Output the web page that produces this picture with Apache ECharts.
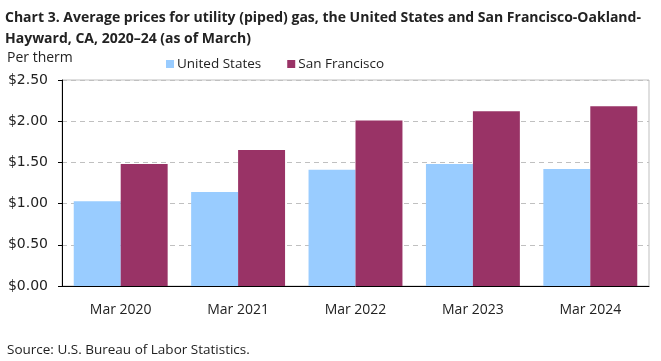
<!DOCTYPE html>
<html><head><meta charset="utf-8">
<script src="https://cdn.jsdelivr.net/npm/echarts@6/dist/echarts.min.js"></script>
<style>html,body{margin:0;padding:0;background:#fff}#c{width:661px;height:361px}</style>
</head><body><div id="c"></div>
<script>
const categories = ['Mar 2020','Mar 2021','Mar 2022','Mar 2023','Mar 2024'];
const usValues = [1.03, 1.14, 1.41, 1.48, 1.42];
const sfValues = [1.48, 1.65, 2.01, 2.12, 2.18];
const seriesNames = ['United States','San Francisco'];
const yTicks = [0, 0.5, 1.0, 1.5, 2.0, 2.5];

const chart = echarts.init(document.getElementById('c'), null, {renderer:'canvas'});
const ff = '"Open Sans", "Liberation Sans", sans-serif';
chart.setOption({
  animation:false,
  backgroundColor:'#fff',
  title:[
    {text:'Chart 3. Average prices for utility (piped) gas, the United States and San Francisco-Oakland-\nHayward, CA, 2020\u201324 (as of March)',
     left:5, top:8, padding:0, textStyle:{fontFamily:ff, fontWeight:'bold', fontSize:14, color:'#222', lineHeight:21}},
    {text:'Per therm', left:7, top:51, padding:0, textStyle:{fontFamily:ff, fontWeight:'normal', fontSize:14, color:'#222'}},
    {text:'Source: U.S. Bureau of Labor Statistics.', left:7, top:343, padding:0, textStyle:{fontFamily:ff, fontWeight:'normal', fontSize:13.5, color:'#222'}}
  ],
  legend:{data:seriesNames, left:166, top:57, padding:0, itemWidth:8, itemHeight:8, itemGap:26, icon:'rect',
    textStyle:{fontFamily:ff, fontSize:13.5, color:'#222', padding:[0,0,0,-2]}},
  grid:{left:62, right:12, top:80, bottom:75, show:true, borderColor:'#bfbfbf', borderWidth:1},
  xAxis:{type:'category', data:categories,
    axisLine:{lineStyle:{color:'#000'}}, axisTick:{show:false},
    axisLabel:{fontFamily:ff, fontSize:14, color:'#222', margin:17}},
  yAxis:{type:'value', min:yTicks[0], max:yTicks[yTicks.length-1], interval:0.5,
    axisLine:{show:true, lineStyle:{color:'#000'}},
    axisTick:{show:true, length:4, lineStyle:{color:'#000'}},
    splitLine:{lineStyle:{color:'#c0c0c0', type:[5,4]}},
    axisLabel:{fontFamily:'"DejaVu Sans", sans-serif', fontSize:14, color:'#222', margin:14,
      formatter:v=>'$'+v.toFixed(2)}},
  series:[
    {name:seriesNames[0], type:'bar', data:usValues, barGap:'0%', barCategoryGap:'20%', itemStyle:{color:'#99ccff'}},
    {name:seriesNames[1], type:'bar', data:sfValues, itemStyle:{color:'#993366'}}
  ]
});
</script></body></html>
